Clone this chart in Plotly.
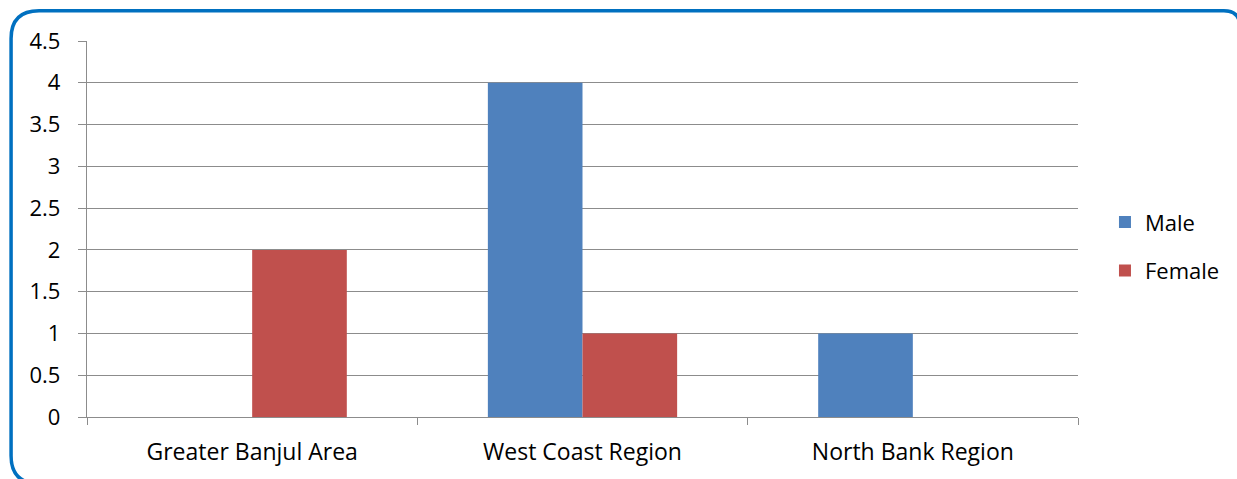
import plotly.graph_objects as go

categories = ["Greater Banjul Area", "West Coast Region", "North Bank Region"]
male = [0, 4, 1]
female = [2, 1, 0]
y_ticks = [0, 0.5, 1, 1.5, 2, 2.5, 3, 3.5, 4, 4.5]
y_tick_labels = ["0", "0.5", "1", "1.5", "2", "2.5", "3", "3.5", "4", "4.5"]

W, H = 1237, 479
L, R, T, B = 87, 1079, 41, 419
pw, ph = R - L, B - T

def px(x):
    return (x - L) / pw

def py(y):
    return (B - y) / ph

font = "Open Sans, sans-serif"
grid = "#8c8c8c"

fig = go.Figure()
fig.add_trace(go.Bar(name="Male", x=categories, y=male, marker=dict(color="#4F81BD", line=dict(width=0)), legendgroup="m"))
fig.add_trace(go.Bar(name="Female", x=categories, y=female, marker=dict(color="#C0504D", line=dict(width=0)), legendgroup="f"))

# rounded border (partly outside the visible page, as in the reference)
r1 = 28
r2 = 16
x0, y0, x1, y1 = 11, 10.5, 1241, 486
path = (
    f"M {px(x1)},{py(y0 + r2)} L {px(x1)},{py(y1)} "
    f"L {px(x0 + r1)},{py(y1)} Q {px(x0)},{py(y1)} {px(x0)},{py(y1 - r1)} "
    f"L {px(x0)},{py(y0 + r1)} "
    f"Q {px(x0)},{py(y0)} {px(x0 + r1)},{py(y0)} "
    f"L {px(x1 - r2)},{py(y0)} Q {px(x1)},{py(y0)} {px(x1)},{py(y0 + r2)}"
)

fig.update_layout(
    width=W, height=H,
    margin=dict(l=L, r=W - R, t=T, b=H - B, pad=0),
    paper_bgcolor="white", plot_bgcolor="white",
    barmode="group", bargap=0.427, bargroupgap=0,
    font=dict(family=font, size=22, color="#000000"),
    showlegend=True,
    legend=dict(x=px(1106), y=py(202), xanchor="left", yanchor="top",
                font=dict(size=22), tracegroupgap=17, traceorder="grouped",
                itemwidth=30, bgcolor="rgba(0,0,0,0)"),
    xaxis=dict(showline=True, linecolor=grid, linewidth=1.3, ticks="outside",
               tickson="boundaries", ticklen=7, tickcolor=grid, tickwidth=1.3,
               showgrid=False, ticklabelstandoff=14, tickfont=dict(size=23)),
    yaxis=dict(range=[0, 4.5], tickvals=y_ticks, ticktext=y_tick_labels,
               showline=True, linecolor=grid, linewidth=1.3, ticks="outside",
               ticklen=8, tickcolor=grid, tickwidth=1.3, showgrid=True,
               gridcolor=grid, gridwidth=1.3, zeroline=False,
               ticklabelstandoff=13, tickfont=dict(size=22)),
    shapes=[dict(type="path", xref="paper", yref="paper", path=path,
                 line=dict(color="#0070C0", width=3.5), layer="above")],
)

fig.write_html("out.html", config={"displayModeBar": False},
               post_script="document.body.style.margin='0';")
